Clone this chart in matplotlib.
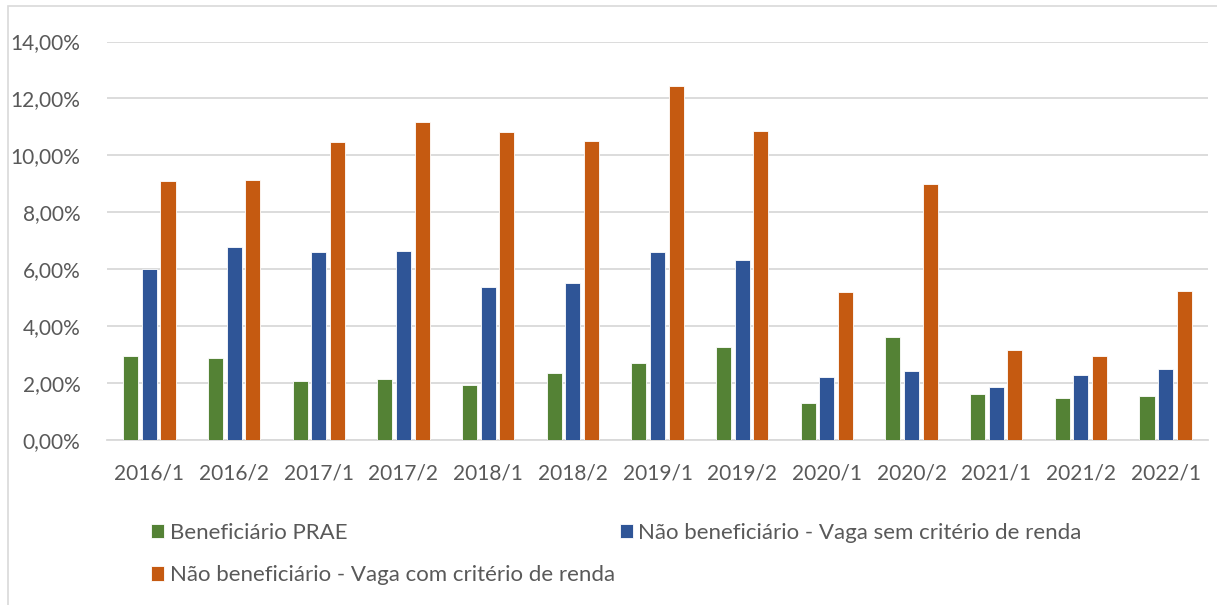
import matplotlib.pyplot as plt
import numpy as np
from matplotlib.patches import Rectangle
from matplotlib.ticker import FuncFormatter

semestres = ["2016/1", "2016/2", "2017/1", "2017/2", "2018/1", "2018/2", "2019/1",
             "2019/2", "2020/1", "2020/2", "2021/1", "2021/2", "2022/1"]
beneficiario_prae = [2.95, 2.86, 2.06, 2.14, 1.93, 2.35, 2.70, 3.26, 1.28, 3.60, 1.62, 1.47, 1.52]
sem_criterio = [5.99, 6.77, 6.61, 6.63, 5.37, 5.50, 6.61, 6.32, 2.22, 2.41, 1.86, 2.26, 2.50]
com_criterio = [9.09, 9.12, 10.46, 11.17, 10.83, 10.49, 12.42, 10.87, 5.20, 9.00, 3.15, 2.96, 5.23]

nomes = ["Beneficiário PRAE",
         "Não beneficiário - Vaga sem critério de renda",
         "Não beneficiário - Vaga com critério de renda"]
cores = ["#548235", "#2F5597", "#C55A11"]
texto = "#595959"

plt.rcParams["font.family"] = ["Lato", "DejaVu Sans"]

fig = plt.figure(figsize=(12.17, 6.05), dpi=100)
ax = fig.add_axes([107 / 1217, 1 - 439.7 / 605, (1208 - 107) / 1217, (439.7 - 41.5) / 605])

# moldura clara do grafico (cortada a direita e embaixo)
fig.patches.append(Rectangle((8 / 1217, -0.1), 1.2, (605 - 6) / 605 + 0.1,
                             transform=fig.transFigure, fill=False,
                             edgecolor="#D9D9D9", linewidth=1.2))

x = np.arange(len(semestres))
passo = 0.22
largura = 0.178
barras = []
for i, (serie, cor) in enumerate(zip([beneficiario_prae, sem_criterio, com_criterio], cores)):
    b = ax.bar(x + (i - 1) * passo, serie, width=largura, color=cor,
               edgecolor="white", linewidth=0.6, zorder=3, label=nomes[i])
    barras.append(b)

ax.set_xlim(-0.5, len(semestres) - 0.5)
ax.set_ylim(0, 14)
ax.set_yticks(np.arange(0, 14.1, 2))
ax.yaxis.set_major_formatter(FuncFormatter(lambda v, p: f"{v:.2f}%".replace(".", ",")))
ax.set_xticks(x)
ax.set_xticklabels(semestres)
ax.grid(axis="y", color="#D9D9D9", linewidth=1.3, zorder=0)
ax.tick_params(length=0, labelsize=15, labelcolor=texto)
ax.tick_params(axis="y", pad=19)
ax.tick_params(axis="x", pad=17)
for s in ["top", "right", "left"]:
    ax.spines[s].set_visible(False)
ax.spines["bottom"].set_color("#D9D9D9")
ax.spines["bottom"].set_linewidth(1.3)

# ordem para preencher: coluna 1 = verde, laranja; coluna 2 = azul
fig.legend([barras[0], barras[2], barras[1]], [nomes[0], nomes[2], nomes[1]],
           ncol=2, loc="upper left", bbox_to_anchor=(140 / 1217, 1 - 512 / 605),
           frameon=False, fontsize=16, labelcolor=texto,
           handlelength=0.6, handleheight=0.6, handletextpad=0.25,
           columnspacing=0.2, labelspacing=1.0, borderpad=0)

fig.savefig("out.png", dpi=100)
